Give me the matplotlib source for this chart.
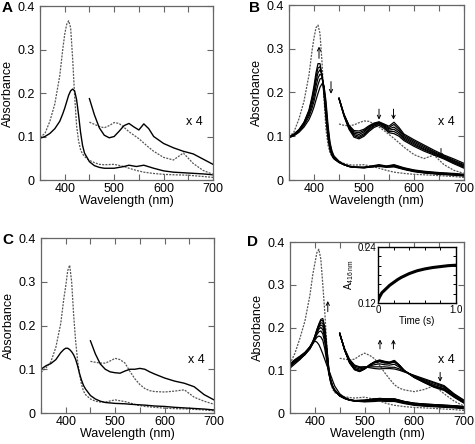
import matplotlib
matplotlib.use('Agg')
import matplotlib.pyplot as plt
from matplotlib.ticker import MultipleLocator

plt.rcParams['font.family'] = ['Liberation Sans', 'DejaVu Sans']
plt.rcParams['mathtext.fontset'] = 'custom'
plt.rcParams['mathtext.rm'] = 'Liberation Sans'
plt.rcParams['mathtext.it'] = 'Liberation Sans:italic'

# comprimentos de onda (nm) dos espectros completos e da parte ampliada (x 4)
wl = [350, 360, 370, 380, 390, 396, 400, 404, 408, 412, 416, 420, 424, 428, 432, 436,
      440, 450, 460, 470, 480, 500, 520, 530, 545, 560, 580, 600, 620, 650, 680, 700]
wl4 = [450, 460, 470, 480, 490, 500, 510, 520, 530, 540, 550, 560, 570, 580, 600,
       620, 640, 660, 680, 700]

# --- painel A ---
a_dot = [0.098, 0.107, 0.135, 0.175, 0.240, 0.300, 0.335, 0.358, 0.366, 0.350, 0.280, 0.195,
         0.125, 0.090, 0.070, 0.060, 0.054, 0.045, 0.040, 0.036, 0.035, 0.036, 0.031, 0.027,
         0.022, 0.018, 0.015, 0.013, 0.012, 0.011, 0.008, 0.006]
a_sol = [0.096, 0.100, 0.107, 0.118, 0.135, 0.152, 0.165, 0.180, 0.195, 0.205, 0.209, 0.205,
         0.185, 0.150, 0.110, 0.080, 0.062, 0.042, 0.033, 0.029, 0.027, 0.027, 0.031, 0.034,
         0.031, 0.034, 0.027, 0.021, 0.018, 0.016, 0.014, 0.012]
a4_sol = [0.187, 0.150, 0.120, 0.103, 0.097, 0.100, 0.112, 0.125, 0.130, 0.122, 0.115, 0.129,
          0.118, 0.100, 0.084, 0.074, 0.066, 0.060, 0.048, 0.036]
a4_dot = [0.133, 0.128, 0.123, 0.120, 0.125, 0.132, 0.130, 0.121, 0.111, 0.103, 0.095, 0.085,
          0.075, 0.066, 0.052, 0.046, 0.062, 0.038, 0.022, 0.013]

# --- painel B ---
b_dot = [0.098, 0.110, 0.140, 0.180, 0.240, 0.295, 0.325, 0.348, 0.354, 0.335, 0.270, 0.185,
         0.115, 0.080, 0.062, 0.054, 0.048, 0.042, 0.038, 0.035, 0.034, 0.035, 0.030, 0.027,
         0.022, 0.018, 0.015, 0.013, 0.012, 0.010, 0.008, 0.006]
b_sol = [
    [0.098, 0.105, 0.115, 0.132, 0.160, 0.190, 0.215, 0.245, 0.266, 0.266, 0.240, 0.195, 0.140, 0.095,
     0.068, 0.055, 0.048, 0.040, 0.035, 0.031, 0.029, 0.029, 0.033, 0.035, 0.032, 0.035, 0.028, 0.023,
     0.020, 0.017, 0.015, 0.013],
    [0.098, 0.105, 0.115, 0.131, 0.158, 0.186, 0.208, 0.236, 0.256, 0.259, 0.240, 0.200, 0.148, 0.100,
     0.071, 0.057, 0.049, 0.040, 0.035, 0.031, 0.029, 0.029, 0.032, 0.034, 0.031, 0.034, 0.027, 0.022,
     0.019, 0.016, 0.014, 0.012],
    [0.098, 0.104, 0.114, 0.130, 0.155, 0.180, 0.200, 0.226, 0.245, 0.252, 0.240, 0.205, 0.155, 0.106,
     0.074, 0.059, 0.050, 0.041, 0.035, 0.031, 0.029, 0.029, 0.032, 0.033, 0.031, 0.033, 0.026, 0.021,
     0.018, 0.015, 0.013, 0.011],
    [0.097, 0.103, 0.113, 0.128, 0.150, 0.172, 0.190, 0.214, 0.233, 0.242, 0.238, 0.210, 0.162, 0.112,
     0.078, 0.061, 0.052, 0.041, 0.035, 0.031, 0.029, 0.028, 0.031, 0.033, 0.030, 0.032, 0.025, 0.020,
     0.017, 0.014, 0.012, 0.010],
    [0.097, 0.102, 0.111, 0.125, 0.145, 0.164, 0.180, 0.200, 0.218, 0.231, 0.233, 0.214, 0.170, 0.118,
     0.082, 0.063, 0.053, 0.042, 0.035, 0.031, 0.029, 0.028, 0.031, 0.032, 0.030, 0.031, 0.025, 0.020,
     0.017, 0.014, 0.012, 0.010],
    [0.097, 0.101, 0.109, 0.121, 0.138, 0.154, 0.167, 0.183, 0.198, 0.212, 0.220, 0.215, 0.180, 0.126,
     0.086, 0.066, 0.055, 0.043, 0.036, 0.032, 0.030, 0.028, 0.030, 0.031, 0.029, 0.030, 0.024, 0.019,
     0.016, 0.013, 0.011, 0.009],
]
b4_sol = [
    [0.187, 0.150, 0.125, 0.113, 0.112, 0.116, 0.124, 0.130, 0.133, 0.128, 0.123, 0.132, 0.120, 0.105,
     0.092, 0.080, 0.068, 0.057, 0.048, 0.038],
    [0.187, 0.150, 0.124, 0.110, 0.108, 0.113, 0.122, 0.129, 0.132, 0.127, 0.120, 0.127, 0.116, 0.102,
     0.089, 0.077, 0.065, 0.055, 0.045, 0.035],
    [0.187, 0.149, 0.122, 0.107, 0.104, 0.110, 0.120, 0.127, 0.131, 0.125, 0.117, 0.121, 0.112, 0.099,
     0.086, 0.074, 0.063, 0.053, 0.043, 0.033],
    [0.186, 0.148, 0.120, 0.104, 0.100, 0.106, 0.117, 0.125, 0.130, 0.123, 0.114, 0.116, 0.108, 0.096,
     0.083, 0.071, 0.061, 0.051, 0.041, 0.031],
    [0.186, 0.147, 0.118, 0.101, 0.097, 0.103, 0.114, 0.123, 0.128, 0.121, 0.111, 0.111, 0.104, 0.093,
     0.080, 0.069, 0.059, 0.050, 0.039, 0.029],
    [0.186, 0.146, 0.116, 0.098, 0.094, 0.100, 0.111, 0.120, 0.125, 0.118, 0.108, 0.106, 0.100, 0.090,
     0.077, 0.066, 0.057, 0.048, 0.037, 0.027],
]
b4_dot = [0.128, 0.125, 0.124, 0.126, 0.131, 0.135, 0.134, 0.128, 0.121, 0.113, 0.104, 0.095,
          0.085, 0.075, 0.058, 0.049, 0.057, 0.035, 0.022, 0.015]

# --- painel C ---
c_dot = [0.093, 0.103, 0.117, 0.150, 0.205, 0.260, 0.290, 0.325, 0.338, 0.300, 0.225, 0.165,
         0.120, 0.088, 0.065, 0.050, 0.042, 0.032, 0.027, 0.025, 0.025, 0.030, 0.026, 0.023,
         0.018, 0.015, 0.013, 0.011, 0.010, 0.009, 0.007, 0.005]
c_sol = [0.100, 0.108, 0.113, 0.122, 0.138, 0.145, 0.148, 0.148, 0.145, 0.140, 0.133, 0.123,
         0.108, 0.090, 0.075, 0.063, 0.055, 0.040, 0.032, 0.027, 0.024, 0.022, 0.021, 0.020,
         0.019, 0.018, 0.016, 0.015, 0.013, 0.011, 0.009, 0.007]
c4_sol = [0.165, 0.135, 0.112, 0.100, 0.094, 0.092, 0.091, 0.096, 0.100, 0.100, 0.102, 0.100,
          0.094, 0.089, 0.080, 0.073, 0.068, 0.060, 0.042, 0.030]
c4_dot = [0.118, 0.116, 0.114, 0.114, 0.119, 0.125, 0.122, 0.114, 0.095, 0.078, 0.065, 0.056,
          0.051, 0.049, 0.048, 0.050, 0.053, 0.036, 0.027, 0.020]

# --- painel D ---
d_dot = [0.115, 0.140, 0.175, 0.215, 0.275, 0.325, 0.350, 0.375, 0.383, 0.360, 0.300, 0.235,
         0.160, 0.100, 0.068, 0.055, 0.048, 0.042, 0.038, 0.036, 0.035, 0.037, 0.032, 0.028,
         0.022, 0.018, 0.015, 0.013, 0.012, 0.010, 0.008, 0.006]
d_sol = [
    [0.105, 0.115, 0.125, 0.138, 0.155, 0.164, 0.168, 0.166, 0.160, 0.150, 0.138, 0.125, 0.112, 0.100,
     0.088, 0.075, 0.063, 0.045, 0.036, 0.031, 0.028, 0.026, 0.027, 0.028, 0.027, 0.027, 0.022, 0.018,
     0.016, 0.014, 0.012, 0.010],
    [0.108, 0.118, 0.126, 0.136, 0.150, 0.162, 0.170, 0.177, 0.180, 0.178, 0.170, 0.150, 0.120, 0.092,
     0.072, 0.060, 0.052, 0.040, 0.034, 0.030, 0.028, 0.027, 0.029, 0.030, 0.029, 0.029, 0.023, 0.019,
     0.017, 0.015, 0.013, 0.011],
    [0.110, 0.120, 0.128, 0.137, 0.150, 0.163, 0.173, 0.183, 0.190, 0.192, 0.185, 0.165, 0.128, 0.094,
     0.072, 0.060, 0.052, 0.040, 0.034, 0.030, 0.028, 0.028, 0.030, 0.031, 0.030, 0.030, 0.024, 0.020,
     0.018, 0.016, 0.014, 0.012],
    [0.111, 0.121, 0.129, 0.138, 0.151, 0.164, 0.175, 0.187, 0.196, 0.200, 0.195, 0.175, 0.135, 0.097,
     0.073, 0.060, 0.052, 0.040, 0.034, 0.030, 0.028, 0.028, 0.031, 0.032, 0.031, 0.031, 0.025, 0.021,
     0.019, 0.017, 0.015, 0.013],
    [0.112, 0.122, 0.130, 0.139, 0.152, 0.165, 0.177, 0.190, 0.200, 0.206, 0.203, 0.183, 0.140, 0.099,
     0.074, 0.061, 0.053, 0.040, 0.034, 0.030, 0.029, 0.029, 0.032, 0.033, 0.032, 0.032, 0.026, 0.022,
     0.020, 0.018, 0.016, 0.014],
    [0.113, 0.123, 0.131, 0.140, 0.153, 0.166, 0.178, 0.192, 0.203, 0.211, 0.210, 0.190, 0.145, 0.101,
     0.075, 0.062, 0.053, 0.041, 0.035, 0.031, 0.029, 0.029, 0.032, 0.033, 0.032, 0.032, 0.026, 0.022,
     0.020, 0.018, 0.016, 0.014],
    [0.114, 0.124, 0.132, 0.141, 0.154, 0.167, 0.179, 0.194, 0.206, 0.216, 0.216, 0.196, 0.150, 0.103,
     0.076, 0.062, 0.054, 0.041, 0.035, 0.031, 0.029, 0.030, 0.033, 0.034, 0.033, 0.033, 0.027, 0.023,
     0.021, 0.019, 0.017, 0.015],
    [0.115, 0.125, 0.133, 0.142, 0.155, 0.168, 0.180, 0.195, 0.208, 0.219, 0.221, 0.201, 0.155, 0.105,
     0.077, 0.063, 0.054, 0.041, 0.035, 0.031, 0.029, 0.030, 0.033, 0.034, 0.033, 0.033, 0.027, 0.023,
     0.021, 0.019, 0.017, 0.015],
]
d4_sol = [
    [0.185, 0.150, 0.125, 0.112, 0.108, 0.108, 0.106, 0.104, 0.103, 0.104, 0.104, 0.103, 0.100, 0.096,
     0.088, 0.080, 0.072, 0.064, 0.045, 0.030],
    [0.185, 0.149, 0.123, 0.110, 0.106, 0.108, 0.108, 0.108, 0.108, 0.108, 0.107, 0.107, 0.103, 0.097,
     0.087, 0.078, 0.070, 0.062, 0.044, 0.029],
    [0.186, 0.148, 0.121, 0.107, 0.103, 0.106, 0.110, 0.113, 0.115, 0.113, 0.112, 0.114, 0.107, 0.098,
     0.086, 0.076, 0.067, 0.060, 0.043, 0.028],
    [0.186, 0.147, 0.119, 0.104, 0.100, 0.104, 0.111, 0.117, 0.120, 0.117, 0.116, 0.119, 0.110, 0.099,
     0.085, 0.074, 0.064, 0.057, 0.041, 0.027],
    [0.186, 0.147, 0.118, 0.103, 0.099, 0.104, 0.112, 0.118, 0.121, 0.118, 0.117, 0.120, 0.111, 0.099,
     0.084, 0.073, 0.063, 0.056, 0.040, 0.026],
    [0.186, 0.147, 0.118, 0.102, 0.098, 0.103, 0.112, 0.119, 0.122, 0.119, 0.118, 0.121, 0.111, 0.099,
     0.084, 0.072, 0.062, 0.055, 0.039, 0.025],
    [0.187, 0.147, 0.117, 0.102, 0.097, 0.103, 0.112, 0.119, 0.123, 0.120, 0.118, 0.122, 0.112, 0.099,
     0.083, 0.072, 0.061, 0.054, 0.038, 0.024],
    [0.187, 0.147, 0.117, 0.101, 0.097, 0.103, 0.113, 0.120, 0.124, 0.121, 0.119, 0.123, 0.112, 0.099,
     0.083, 0.071, 0.060, 0.053, 0.037, 0.023],
]
d4_dot = [0.128, 0.126, 0.124, 0.126, 0.134, 0.140, 0.135, 0.127, 0.112, 0.095, 0.080, 0.066,
          0.058, 0.054, 0.050, 0.055, 0.064, 0.045, 0.028, 0.016]

# --- detalhe (inset) do painel D: A416 x tempo ---
tempo = [0, 0.02, 0.05, 0.1, 0.15, 0.2, 0.25, 0.3, 0.4, 0.5, 0.6, 0.7, 0.8, 0.9, 1.0]
a416 = [0.125, 0.133, 0.142, 0.150, 0.158, 0.164, 0.170, 0.175, 0.183, 0.189, 0.193, 0.196,
        0.198, 0.200, 0.201]

COR_PONT = '#555555'
PONT = (0, (1.6, 1.0))
COR_EIXO = '#666666'


def estilo(ax):
    ax.set_xlim(350, 700)
    ax.set_ylim(0, 0.4)
    ax.set_xticks([400, 500, 600, 700])
    ax.xaxis.set_minor_locator(MultipleLocator(50))
    ax.set_yticks([0, 0.1, 0.2, 0.3, 0.4])
    ax.set_yticklabels(['0', '0.1', '0.2', '0.3', '0.4'])
    ax.tick_params(which='both', direction='in', top=True, right=True, length=4,
                   width=0.8, color=COR_EIXO, labelsize=9)
    ax.tick_params(axis='x', pad=2)
    ax.tick_params(axis='y', pad=4)
    for s in ax.spines.values():
        s.set_color(COR_EIXO)
        s.set_linewidth(0.9)
    ax.set_xlabel('Wavelength (nm)', fontsize=9)
    ax.set_ylabel('Absorbance', fontsize=9)
    ax.yaxis.set_label_coords(-0.15, 0.5)
    ax.xaxis.set_label_coords(0.5, -0.088)


def seta(ax, x, y0, y1):
    ax.annotate('', xy=(x, y1), xytext=(x, y0),
                arrowprops=dict(arrowstyle='->', lw=0.7, color='k', shrinkA=0, shrinkB=0,
                                mutation_scale=6))


fig = plt.figure(figsize=(4.75, 4.44), dpi=100)
W, H = 475.0, 444.0


def eixo(x0, x1, y0, y1):
    return fig.add_axes([x0 / W, 1 - y1 / H, (x1 - x0) / W, (y1 - y0) / H])


axA = eixo(40, 213, 6, 180)
axB = eixo(289, 464, 5, 180)
axC = eixo(41, 214, 238, 413)
axD = eixo(290, 464, 242, 413)

# A
axA.plot(wl, a_dot, color=COR_PONT, ls=PONT, lw=0.9)
axA.plot(wl, a_sol, color='k', lw=1.0)
axA.plot(wl4, a4_dot, color=COR_PONT, ls=PONT, lw=0.9)
axA.plot(wl4, a4_sol, color='k', lw=1.0)
axA.text(662, 0.133, 'x 4', fontsize=9, ha='center', va='center')

# B
axB.plot(wl, b_dot, color=COR_PONT, ls=PONT, lw=0.9)
for y in b_sol:
    axB.plot(wl, y, color='k', lw=0.9)
axB.plot(wl4, b4_dot, color=COR_PONT, ls=PONT, lw=0.9)
for y in b4_sol:
    axB.plot(wl4, y, color='k', lw=0.9)
axB.text(665, 0.133, 'x 4', fontsize=9, ha='center', va='center')
seta(axB, 410, 0.278, 0.305)
seta(axB, 434, 0.225, 0.197)
seta(axB, 530, 0.162, 0.138)
seta(axB, 559, 0.162, 0.138)
seta(axB, 654, 0.072, 0.050)

# C
axC.plot(wl, c_dot, color=COR_PONT, ls=PONT, lw=0.9)
axC.plot(wl, c_sol, color='k', lw=1.0)
axC.plot(wl4, c4_dot, color=COR_PONT, ls=PONT, lw=0.9)
axC.plot(wl4, c4_sol, color='k', lw=1.0)
axC.text(664, 0.122, 'x 4', fontsize=9, ha='center', va='center')

# D
axD.plot(wl, d_dot, color=COR_PONT, ls=PONT, lw=0.9)
for y in d_sol:
    axD.plot(wl, y, color='k', lw=0.9)
axD.plot(wl4, d4_dot, color=COR_PONT, ls=PONT, lw=0.9)
for y in d4_sol:
    axD.plot(wl4, y, color='k', lw=0.9)
axD.text(665, 0.124, 'x 4', fontsize=9, ha='center', va='center')
seta(axD, 426, 0.237, 0.262)
seta(axD, 531, 0.150, 0.172)
seta(axD, 558, 0.150, 0.172)
seta(axD, 652, 0.095, 0.073)

for ax in (axA, axB, axC, axD):
    estilo(ax)

# inset
axI = eixo(378, 456, 247, 303)
axI.plot(tempo, a416, color='k', lw=2.2)
axI.set_xlim(0, 1.0)
axI.set_ylim(0.12, 0.24)
axI.set_xticks([0, 0.2, 0.4, 0.6, 0.8, 1.0])
axI.set_xticklabels(['0', '', '', '', '', '1.0'])
axI.set_yticks([0.12, 0.14, 0.16, 0.18, 0.20, 0.22, 0.24])
axI.set_yticklabels(['0.12', '', '', '', '', '', '0.24'])
axI.tick_params(direction='in', top=True, right=True, length=2.5, width=0.7,
                labelsize=7, pad=1.5)
for s in axI.spines.values():
    s.set_linewidth(1.0)
axI.set_xlabel('Time (s)', fontsize=7, labelpad=1)
axI.set_ylabel(r'A$_{\mathrm{416\ nm}}$', fontsize=7, labelpad=1)

# letras dos paineis
for letra, x, y in [('A', 7, 8), ('B', 254, 8), ('C', 8, 240), ('D', 252, 242)]:
    fig.text(x / W, 1 - y / H, letra, fontsize=11, fontweight='bold', ha='center', va='center')

fig.savefig('out.png', dpi=100)
